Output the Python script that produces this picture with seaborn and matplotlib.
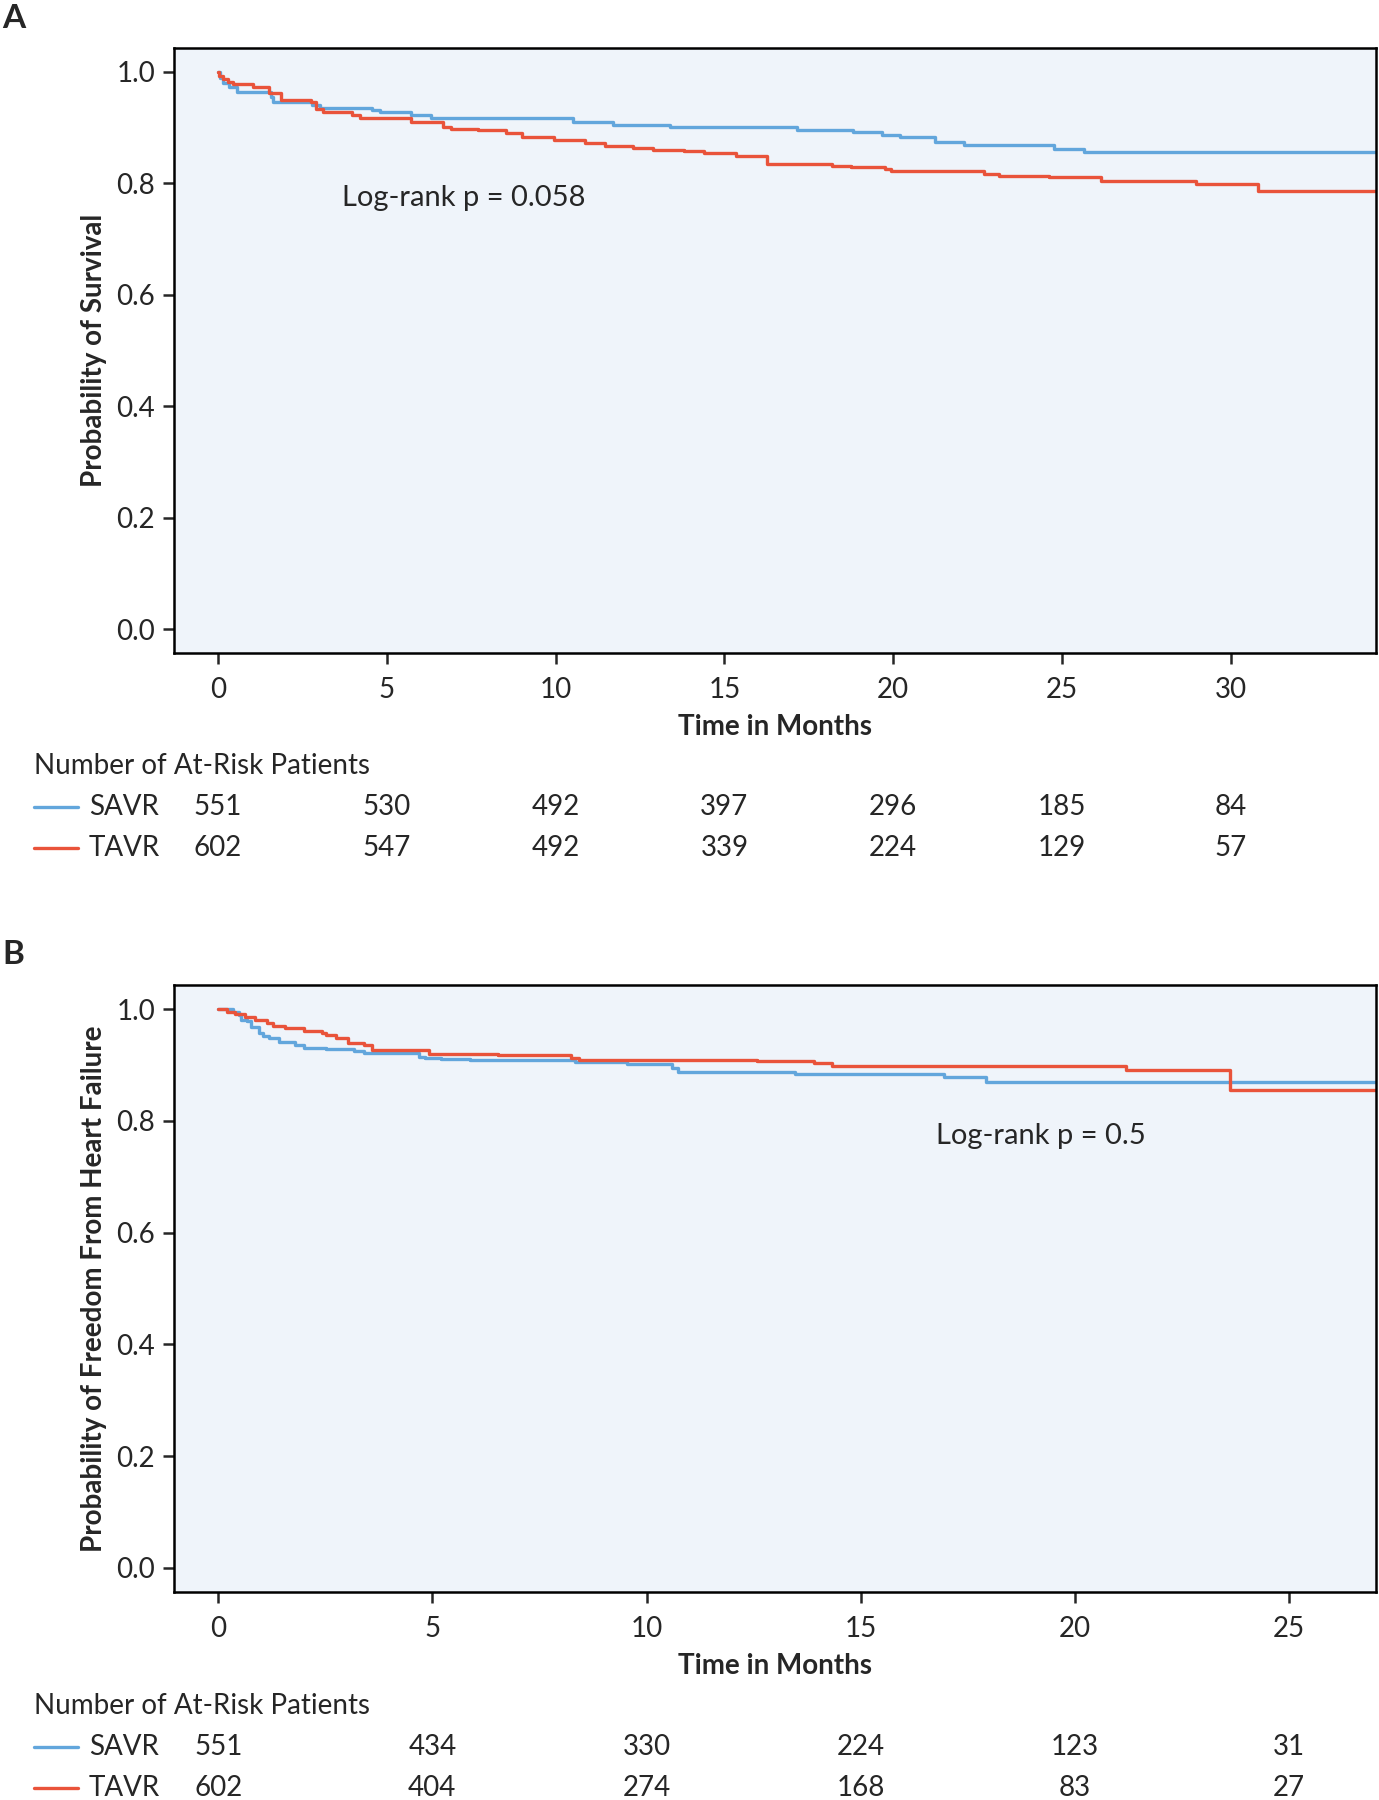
import numpy as np
import pandas as pd
import matplotlib
matplotlib.use("Agg")
import matplotlib.pyplot as plt
import seaborn as sns
from matplotlib.transforms import blended_transform_factory

# ---------------- data ----------------
groups = ["SAVR", "TAVR"]
palette = {"SAVR": "#62A6DC", "TAVR": "#E9533A"}

# Panel A: survival
a_savr_t = [0, 0.05, 0.15, 0.33, 0.57, 1.56, 1.62, 2.79, 3.03, 4.55, 4.79, 5.72, 6.31,
            10.5, 11.7, 13.4, 15.0, 17.16, 18.8, 19.68, 20.21, 21.23, 22.1, 24.77, 25.65, 34.3]
a_savr_s = [1.0, 0.99, 0.98, 0.973, 0.964, 0.955, 0.946, 0.940, 0.936, 0.932, 0.928, 0.922, 0.917,
            0.910, 0.905, 0.902, 0.901, 0.896, 0.892, 0.886, 0.883, 0.875, 0.869, 0.861, 0.856, 0.856]
a_tavr_t = [0, 0.04, 0.15, 0.3, 0.45, 1.04, 1.51, 1.86, 2.75, 2.91, 3.1, 3.97, 4.2, 5.72, 6.66,
            6.89, 7.71, 8.53, 9.0, 9.94, 10.88, 11.46, 12.28, 12.87, 13.8, 14.39, 15.33, 16.26,
            18.18, 18.74, 19.76, 19.93, 21.06, 22.7, 23.12, 24.62, 26.15, 28.98, 30.79, 34.3]
a_tavr_s = [1.0, 0.993, 0.987, 0.982, 0.978, 0.973, 0.962, 0.950, 0.946, 0.934, 0.928, 0.922, 0.917,
            0.911, 0.902, 0.898, 0.895, 0.890, 0.884, 0.878, 0.872, 0.867, 0.863, 0.860, 0.858,
            0.854, 0.849, 0.835, 0.832, 0.829, 0.825, 0.823, 0.822, 0.816, 0.813, 0.811, 0.805,
            0.798, 0.787, 0.787]

# Panel B: freedom from heart failure
b_savr_t = [0, 0.355, 0.49, 0.54, 0.68, 0.77, 0.95, 1.04, 1.19, 1.41, 1.79, 2.01, 2.52, 3.17, 3.4,
            4.69, 4.83, 5.2, 5.89, 8.34, 9.54, 10.6, 10.74, 13.47, 16.95, 17.93, 27.03]
b_savr_s = [1.0, 0.995, 0.989, 0.980, 0.978, 0.967, 0.957, 0.951, 0.948, 0.941, 0.935, 0.930, 0.928,
            0.925, 0.921, 0.915, 0.912, 0.911, 0.909, 0.905, 0.902, 0.895, 0.887, 0.883, 0.879,
            0.869, 0.869]
b_tavr_t = [0, 0.21, 0.40, 0.63, 0.86, 1.14, 1.28, 1.55, 2.01, 2.43, 2.52, 2.75, 3.03, 3.4, 3.58,
            4.92, 6.54, 8.24, 8.43, 12.58, 13.92, 14.32, 21.19, 23.62, 27.03]
b_tavr_s = [1.0, 0.995, 0.992, 0.986, 0.980, 0.975, 0.970, 0.966, 0.961, 0.958, 0.954, 0.948, 0.940,
            0.936, 0.927, 0.920, 0.917, 0.912, 0.909, 0.907, 0.904, 0.898, 0.891, 0.856, 0.856]

# At-risk tables
a_risk_times = [0, 5, 10, 15, 20, 25, 30]
a_risk_savr = [551, 530, 492, 397, 296, 185, 84]
a_risk_tavr = [602, 547, 492, 339, 224, 129, 57]
b_risk_times = [0, 5, 10, 15, 20, 25]
b_risk_savr = [551, 434, 330, 224, 123, 31]
b_risk_tavr = [602, 404, 274, 168, 83, 27]


def make_df(savr_t, savr_s, tavr_t, tavr_s):
    d1 = pd.DataFrame({"time": savr_t, "surv": savr_s, "group": "SAVR"})
    d2 = pd.DataFrame({"time": tavr_t, "surv": tavr_s, "group": "TAVR"})
    return pd.concat([d1, d2], ignore_index=True)


df_a = make_df(a_savr_t, a_savr_s, a_tavr_t, a_tavr_s)
df_b = make_df(b_savr_t, b_savr_s, b_tavr_t, b_tavr_s)

# ---------------- style ----------------
sns.set_style("ticks")
plt.rcParams["font.family"] = ["Lato", "DejaVu Sans"]
plt.rcParams["axes.linewidth"] = 1.8

W, H = 1379, 1800
fig = plt.figure(figsize=(W / 100, H / 100), dpi=100)

BG = "#EFF4FA"
FS = 20


def fx(px):
    return px / W


def fy(py):
    return 1 - py / H


def panel(rect, df, xmax, xticks, ylabel, ptxt, pxy, risk_t, risk_s, risk_tv, ty):
    ax = fig.add_axes(rect)
    ax.set_facecolor(BG)
    sns.lineplot(data=df, x="time", y="surv", hue="group", hue_order=groups,
                 palette=palette, drawstyle="steps-post", estimator=None, sort=False,
                 linewidth=2.4, legend=False, ax=ax)
    ax.set_xlim(xmax[0], xmax[1])
    ax.set_ylim(-0.043, 1.043)
    ax.set_xticks(xticks)
    ax.set_yticks([0.0, 0.2, 0.4, 0.6, 0.8, 1.0])
    ax.set_yticklabels(["0.0", "0.2", "0.4", "0.6", "0.8", "1.0"])
    ax.tick_params(axis="both", labelsize=FS, length=8, width=1.8, direction="out", pad=6)
    ax.tick_params(axis="x", pad=9)
    for sp in ax.spines.values():
        sp.set_visible(True)
        sp.set_color("black")
        sp.set_linewidth(1.8)
    ax.set_xlabel("Time in Months", fontsize=FS, fontweight="bold")
    ax.set_ylabel(ylabel, fontsize=FS, fontweight="bold")
    ax.yaxis.set_label_coords(-0.056, 0.5)
    ax.xaxis.set_label_coords(0.5, -0.101)
    ax.text(pxy[0], pxy[1], ptxt, fontsize=21, va="center", ha="left")

    tr = blended_transform_factory(ax.transData, fig.transFigure)
    fig.text(fx(34), fy(ty[0]), "Number of At-Risk Patients", fontsize=FS, va="center", ha="left")
    for row, (g, vals) in enumerate([("SAVR", risk_s), ("TAVR", risk_tv)]):
        yy = fy(ty[row + 1])
        fig.lines.append(plt.Line2D([fx(34), fx(78)], [yy, yy], color=palette[g], lw=2.4,
                                    transform=fig.transFigure))
        fig.text(fx(89), yy, g, fontsize=FS, va="center", ha="left")
        for t, v in zip(risk_t, vals):
            ax.text(t, yy, str(v), transform=tr, fontsize=FS, va="center", ha="center",
                    clip_on=False)
    return ax


axA = panel([fx(174.5), fy(653), fx(1376) - fx(174.5), fy(48) - fy(653)], df_a,
            (-1.29, 34.3), [0, 5, 10, 15, 20, 25, 30], "Probability of Survival",
            "Log-rank p = 0.058", (3.67, 0.773),
            a_risk_times, a_risk_savr, a_risk_tavr, (766, 807, 848))

axB = panel([fx(174.5), fy(1592), fx(1376) - fx(174.5), fy(985) - fy(1592)], df_b,
            (-1.02, 27.03), [0, 5, 10, 15, 20, 25], "Probability of Freedom From Heart Failure",
            "Log-rank p = 0.5", (16.75, 0.772),
            b_risk_times, b_risk_savr, b_risk_tavr, (1706, 1747, 1788))

fig.text(fx(2), fy(18), "A", fontsize=24, fontweight="bold", va="center", ha="left")
fig.text(fx(2), fy(955), "B", fontsize=24, fontweight="bold", va="center", ha="left")

fig.savefig("out.png", dpi=100, facecolor="white")
